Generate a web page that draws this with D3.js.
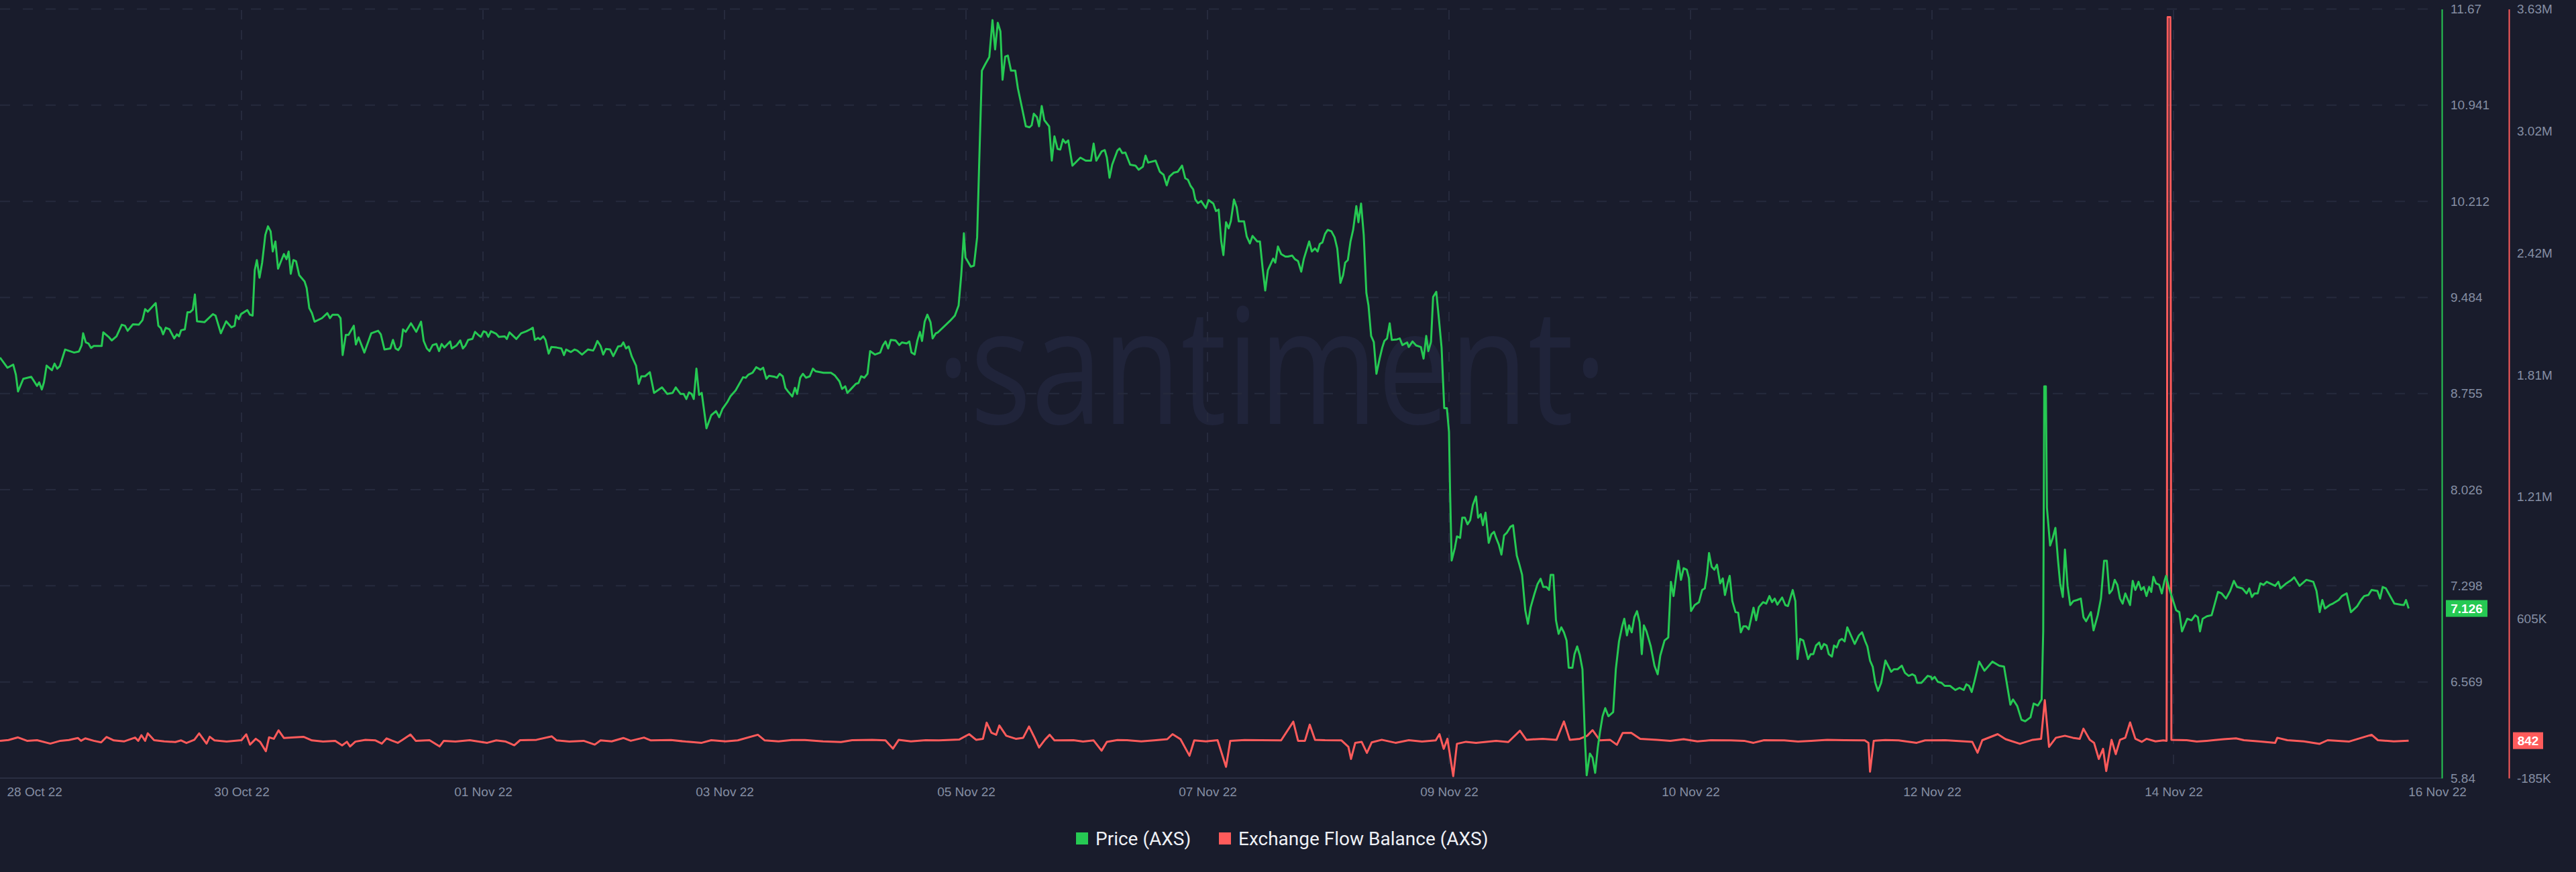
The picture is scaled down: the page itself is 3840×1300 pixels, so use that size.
<!DOCTYPE html>
<html>
<head>
<meta charset="utf-8">
<script src="https://cdn.jsdelivr.net/npm/d3@7"></script>
<style>
html, body { margin: 0; padding: 0; background: #191c2c; }
svg { display: block; }
</style>
</head>
<body>
<div id="chart"></div>
<script>
// x axis tick labels (evenly spaced over the 28 Oct - 16 Nov window)
var dateLabels = ["28 Oct 22", "30 Oct 22", "01 Nov 22", "03 Nov 22", "05 Nov 22", "07 Nov 22",
    "09 Nov 22", "10 Nov 22", "12 Nov 22", "14 Nov 22", "16 Nov 22"];
var totalHours = 456;

// left (green) axis ticks
var priceTicks = [5.84, 6.569, 7.298, 8.026, 8.755, 9.484, 10.212, 10.941, 11.67];

// right (red) axis ticks, in thousands
var flowTicks = [-185, 605, 1210, 1815, 2420, 3025, 3630];
var flowTickLabels = ["-185K", "605K", "1.21M", "1.81M", "2.42M", "3.02M", "3.63M"];

var legendNames = ["Price (AXS)", "Exchange Flow Balance (AXS)"];
var colors = ["#26c953", "#ff5b5b"];

// price: [hours since 28 Oct 00:00, price]
var priceSeries = [[0,9.028],[1.4,8.951],[2.5,8.974],[3.0,8.898],[3.4,8.771],[4.4,8.867],[5.9,8.882],[7.0,8.813],[7.4,8.840],[7.9,8.786],[8.3,8.840],[8.8,8.967],[9.8,8.932],[10.3,8.982],[10.8,8.944],[11.3,8.963],[12.3,9.089],[14.0,9.066],[14.9,9.074],[15.4,9.120],[15.7,9.212],[16.2,9.143],[16.7,9.135],[17.2,9.101],[17.7,9.116],[19.2,9.116],[19.5,9.219],[20.6,9.181],[21.1,9.158],[22.0,9.189],[23.0,9.277],[23.6,9.269],[24.1,9.231],[25.1,9.280],[26.2,9.277],[26.9,9.311],[27.4,9.395],[27.9,9.376],[29.4,9.441],[29.9,9.269],[30.4,9.250],[30.8,9.204],[31.3,9.254],[32.0,9.242],[32.9,9.173],[33.4,9.204],[33.8,9.189],[34.2,9.235],[34.9,9.242],[35.4,9.372],[35.9,9.372],[36.4,9.391],[36.8,9.506],[37.2,9.303],[38.6,9.296],[40.2,9.357],[40.7,9.346],[41.7,9.212],[42.7,9.303],[43.7,9.257],[44.3,9.269],[44.6,9.346],[45.1,9.319],[45.5,9.357],[46.7,9.388],[47.2,9.353],[47.7,9.346],[48.1,9.690],[48.5,9.767],[49.0,9.633],[49.5,9.748],[50.1,9.958],[50.6,10.023],[51.1,9.985],[51.5,9.832],[52.0,9.908],[52.5,9.702],[53.6,9.813],[54.1,9.774],[54.5,9.832],[54.9,9.663],[55.4,9.767],[55.9,9.759],[56.5,9.652],[57.5,9.606],[57.9,9.556],[58.4,9.403],[58.9,9.365],[59.4,9.300],[60.8,9.327],[61.8,9.365],[62.3,9.327],[62.8,9.353],[63.8,9.353],[64.3,9.327],[64.7,9.047],[65.3,9.200],[65.8,9.200],[66.8,9.269],[67.2,9.127],[67.7,9.181],[68.8,9.066],[70.1,9.212],[71.4,9.231],[71.9,9.204],[72.6,9.089],[73.7,9.097],[74.2,9.162],[74.7,9.097],[75.2,9.085],[75.7,9.116],[76.1,9.242],[76.6,9.223],[77.6,9.288],[78.6,9.223],[79.5,9.300],[80.0,9.154],[80.6,9.097],[81.1,9.077],
    [81.7,9.123],[82.4,9.131],[82.9,9.077],[83.4,9.131],[83.9,9.104],[85.0,9.150],[85.3,9.097],[86.2,9.120],[86.9,9.158],[87.4,9.097],[87.9,9.120],[88.4,9.162],[89.2,9.169],[89.7,9.223],[90.4,9.196],[90.8,9.185],[91.3,9.227],[91.8,9.219],[92.2,9.185],[92.7,9.227],[93.7,9.208],[94.2,9.185],[95.3,9.189],[95.7,9.169],[96.2,9.219],[97.5,9.169],[98.4,9.212],[99.4,9.227],[100.1,9.242],[100.6,9.254],[101.0,9.162],[101.6,9.177],[102.0,9.166],[102.6,9.189],[103.0,9.162],[103.6,9.058],[104.1,9.108],[105.1,9.104],[106.0,9.097],[106.5,9.047],[106.9,9.089],[107.8,9.070],[108.5,9.089],[109.0,9.081],[109.9,9.051],[111.0,9.089],[112.0,9.081],[112.3,9.104],[112.8,9.154],[113.4,9.116],[113.9,9.051],[114.4,9.093],[115.2,9.089],[115.8,9.039],[116.7,9.112],[117.3,9.116],[117.7,9.143],[118.2,9.097],[118.7,9.112],[119.3,9.035],[120.1,8.967],[120.6,8.829],[121.1,8.886],[121.8,8.886],[122.7,8.917],[123.5,8.760],[125.0,8.802],[126.0,8.752],[127.0,8.760],[127.6,8.802],[128.5,8.752],[129.1,8.752],[129.6,8.714],[130.1,8.764],[130.6,8.752],[131.0,8.714],[131.5,8.944],[132.0,8.745],[132.5,8.760],[133.4,8.492],[134.3,8.591],[135.2,8.622],[135.8,8.576],[136.4,8.637],[137.4,8.695],[137.9,8.733],[138.9,8.779],[140.3,8.879],[140.8,8.875],[141.3,8.898],[142.1,8.913],[142.8,8.955],[143.6,8.936],[144.1,8.951],[144.7,8.867],[145.2,8.890],[146.3,8.882],[146.7,8.875],[147.2,8.905],[147.8,8.886],[148.3,8.798],[148.8,8.771],[149.6,8.733],[150.1,8.798],[150.5,8.752],[151.1,8.875],[151.6,8.905],[152.2,8.875],[152.9,8.886],[153.5,8.944],[154.0,8.924],[155.5,8.913],[156.9,8.913],[157.6,8.894],[158.5,8.848],[159.0,8.790],[159.6,8.810],[160.0,8.760],[160.7,8.790],[161.6,8.829],[162.1,8.835],
    [162.6,8.886],[163.2,8.875],[163.8,8.905],[164.3,9.077],[165.2,9.051],[166.2,9.066],[166.7,9.120],[167.2,9.150],[167.7,9.097],[168.2,9.162],[169.1,9.158],[169.8,9.123],[170.3,9.143],[171.2,9.135],[171.7,9.150],[172.1,9.066],[172.7,9.051],[173.2,9.154],[173.7,9.223],[174.1,9.154],[174.6,9.300],[175.1,9.353],[175.7,9.296],[176.1,9.173],[176.7,9.212],[177.1,9.219],[179.4,9.307],[180.3,9.346],[181.0,9.422],[181.5,9.652],[182.0,9.970],[182.3,9.786],[182.7,9.759],[183.3,9.717],[183.9,9.725],[184.5,9.939],[184.9,10.513],[185.4,11.203],[186.0,11.249],[186.8,11.306],[187.4,11.586],[187.9,11.364],[188.4,11.566],[188.9,11.501],[189.3,11.134],[189.8,11.310],[190.3,11.317],[190.9,11.203],[191.7,11.203],[192.2,11.069],[192.9,10.935],[193.7,10.781],[194.4,10.774],[194.8,10.789],[195.2,10.877],[195.8,10.850],[196.2,10.781],[196.7,10.935],[197.2,10.827],[198.1,10.781],[198.6,10.521],[199.1,10.705],[199.7,10.609],[200.2,10.605],[200.7,10.682],[201.2,10.655],[201.7,10.674],[202.5,10.483],[204.0,10.544],[205.0,10.521],[206.0,10.521],[206.5,10.651],[207.0,10.521],[208.0,10.590],[208.6,10.601],[209.0,10.544],[209.5,10.391],[210.0,10.490],[211.0,10.598],[211.4,10.613],[211.9,10.578],[212.5,10.582],[213.4,10.490],[214.4,10.483],[215.0,10.452],[215.8,10.475],[216.3,10.559],[216.8,10.506],[218.2,10.521],[219.0,10.437],[219.7,10.414],[220.3,10.334],[220.8,10.399],[221.6,10.429],[222.4,10.437],[223.2,10.483],[223.8,10.387],[224.3,10.376],[224.8,10.330],[225.3,10.303],[225.7,10.226],[226.2,10.199],[226.8,10.215],[227.7,10.161],[228.2,10.222],[229.1,10.195],[229.6,10.138],[230.1,10.150],[230.6,9.908],[231.0,9.805],[231.5,10.054],[232.0,10.008],[232.4,10.061],[233.0,10.226],[233.5,10.169],[233.9,10.061],[234.9,10.061],[235.4,9.947],[236.0,9.893],[236.5,9.950],[237.4,9.908],[237.9,9.908],[238.4,9.709],[238.9,9.537],[239.4,9.690],[240.4,9.778],[240.8,9.748],[241.3,9.870],[241.9,9.813],[242.7,9.794],
    [243.2,9.794],[244.0,9.801],[244.5,9.774],[245.1,9.759],[245.7,9.679],[246.2,9.778],[247.2,9.908],[247.7,9.832],[248.3,9.855],[248.8,9.832],[249.2,9.889],[249.7,9.901],[250.2,9.966],[250.7,9.996],[251.4,9.985],[252.0,9.939],[252.5,9.855],[253.1,9.594],[253.6,9.652],[254.0,9.748],[254.5,9.767],[255.0,9.908],[255.5,9.996],[256.1,10.176],[256.5,10.054],[257.0,10.195],[257.5,9.958],[258.0,9.518],[258.4,9.422],[258.9,9.192],[259.4,9.146],[259.9,8.905],[260.5,9.020],[261.0,9.104],[261.4,9.154],[261.9,9.173],[262.4,9.288],[262.8,9.162],[263.8,9.166],[264.3,9.173],[264.8,9.123],[265.7,9.143],[266.0,9.108],[266.7,9.150],[267.4,9.120],[268.3,9.108],[268.8,9.020],[269.3,9.192],[269.7,9.077],[270.2,9.146],[270.6,9.487],[271.2,9.526],[271.7,9.319],[272.2,9.104],[272.7,8.645],[273.2,8.645],[273.6,8.465],[273.8,8.024],[274.1,7.489],[274.7,7.584],[275.1,7.672],[275.7,7.661],[276.1,7.814],[276.6,7.814],[277.1,7.764],[277.6,7.795],[278.1,7.910],[278.7,7.975],[279.1,7.814],[279.6,7.841],[280.0,7.757],[280.5,7.852],[281.1,7.623],[281.6,7.688],[282.1,7.707],[282.5,7.661],[283.0,7.611],[283.5,7.534],[284.0,7.680],[284.5,7.699],[285.2,7.745],[285.7,7.757],[286.4,7.527],[286.9,7.458],[287.4,7.381],[288.0,7.113],[288.5,7.010],[289.0,7.132],[289.7,7.232],[290.3,7.309],[290.9,7.351],[291.4,7.289],[292.0,7.289],[292.5,7.266],[292.8,7.381],[293.3,7.381],[293.8,7.036],[294.3,6.933],[294.8,6.983],[295.3,6.945],[295.8,6.883],[296.2,6.677],[296.9,6.677],[297.3,6.780],[297.8,6.838],[298.3,6.772],[298.8,6.665],[299.3,6.110],[299.6,5.861],[300.2,6.026],[300.7,5.995],[301.2,5.880],[301.7,6.072],[302.1,6.187],[302.6,6.309],[303.1,6.370],[303.7,6.309],[304.6,6.340],[305.1,6.665],[305.7,6.876],[306.3,6.991],[306.7,7.048],[307.2,6.922],[307.6,6.998],[308.1,6.945],[308.6,7.060],[309.1,7.106],[309.6,7.021],[310.0,6.780],[310.4,6.998],[310.9,6.952],[311.7,6.838],[312.4,6.692],[313.0,6.627],[313.5,6.769],[314.3,6.883],[315.0,6.906],[315.5,7.328],[316.0,7.220],[316.5,7.373],[316.9,7.488],[317.4,7.343],[317.9,7.431],[318.5,7.420],[318.9,7.354],[319.3,7.106],[320.0,7.152],[320.8,7.174],[321.4,7.266],[321.9,7.278],[322.3,7.381],[322.7,7.546],[323.2,7.442],[323.7,7.420],[324.2,7.458],
    [324.8,7.316],[325.3,7.354],[325.7,7.228],[326.2,7.316],[326.6,7.373],[327.1,7.182],[327.7,7.098],[328.2,7.094],[328.7,6.945],[329.2,6.991],[329.7,6.991],[330.2,6.968],[331.1,7.132],[331.6,7.036],[332.1,7.136],[332.9,7.174],[333.5,7.163],[334.1,7.220],[334.6,7.174],[335.1,7.201],[335.6,7.155],[336.5,7.209],[337.1,7.152],[337.6,7.144],[338.5,7.266],[339.0,7.182],[339.4,6.742],[339.9,6.895],[340.5,6.883],[341.0,6.807],[341.4,6.742],[341.9,6.780],[342.4,6.780],[342.9,6.845],[343.5,6.868],[343.9,6.818],[344.4,6.857],[344.9,6.845],[345.3,6.780],[345.9,6.761],[346.3,6.845],[346.8,6.830],[347.3,6.883],[347.8,6.895],[348.3,6.876],[348.8,6.983],[350.2,6.857],[351.0,6.922],[351.6,6.945],[352.2,6.876],[352.6,6.838],[353.1,6.731],[353.6,6.685],[354.1,6.562],[354.6,6.501],[355.2,6.562],[356.0,6.731],[357.1,6.646],[357.6,6.665],[358.3,6.665],[359.1,6.692],[359.7,6.638],[360.4,6.615],[361.1,6.627],[361.6,6.615],[362.0,6.562],[362.8,6.562],[364.0,6.615],[364.6,6.608],[364.8,6.588],[365.3,6.608],[365.9,6.570],[366.6,6.562],[367.2,6.539],[368.2,6.539],[369.2,6.508],[370.0,6.524],[370.8,6.508],[371.3,6.551],[371.8,6.539],[372.3,6.493],[372.8,6.570],[373.7,6.723],[374.7,6.654],[375.4,6.685],[376.2,6.723],[377.5,6.692],[378.4,6.685],[379.6,6.397],[380.1,6.436],[380.9,6.386],[381.7,6.282],[382.4,6.271],[383.4,6.301],[384.0,6.405],[384.8,6.390],[385.5,6.436],[385.8,6.952],[386.0,8.810],[386.3,8.810],[386.5,7.890],[387.1,7.603],[387.6,7.661],[388.1,7.737],[388.6,7.488],[389.0,7.316],[389.5,7.213],[389.9,7.573],[390.4,7.297],[390.9,7.152],[391.5,7.182],[392.2,7.190],[392.9,7.201],[393.4,7.060],[393.9,7.029],[394.8,7.098],[395.3,6.960],[396.1,7.075],[396.7,7.201],[397.3,7.488],[397.8,7.488],[398.3,7.240],[398.8,7.266],[399.3,7.343],[399.8,7.305],[400.3,7.201],[400.8,7.163],[401.3,7.240],[402.2,7.152],[402.7,7.335],[403.2,7.266],[403.8,7.328],[404.3,7.266],[404.8,7.289],[405.3,7.220],
    [405.8,7.289],[406.2,7.251],[406.6,7.366],[407.1,7.316],[407.7,7.305],[408.2,7.240],[408.7,7.335],[409.0,7.373],[409.5,7.289],[410.2,7.201],[410.9,7.113],[411.5,7.098],[412.0,6.952],[413.0,7.048],[413.8,7.036],[414.5,7.075],[415.0,7.060],[415.4,6.952],[415.9,7.048],[416.7,7.067],[417.6,7.075],[418.2,7.163],[418.8,7.251],[419.5,7.240],[420.3,7.201],[421.1,7.259],[421.8,7.335],[422.4,7.289],[423.4,7.278],[424.2,7.240],[424.7,7.278],[425.2,7.213],[425.7,7.240],[426.3,7.240],[426.8,7.316],[427.4,7.305],[428.0,7.328],[429.6,7.297],[430.2,7.328],[430.6,7.278],[431.7,7.316],[432.7,7.343],[433.2,7.362],[434.2,7.297],[435.5,7.343],[436.8,7.328],[437.4,7.259],[438.0,7.098],[438.5,7.190],[439.0,7.125],[439.9,7.152],[440.5,7.163],[441.6,7.190],[442.2,7.220],[443.1,7.240],[443.9,7.098],[445.1,7.144],[445.8,7.190],[446.4,7.220],[447.2,7.228],[447.8,7.266],[448.9,7.259],[449.4,7.201],[449.9,7.289],[450.5,7.278],[452.1,7.163],[453.3,7.155],[453.9,7.152],[454.3,7.190],[454.8,7.126]];

// exchange flow balance: [hours since 28 Oct 00:00, thousands of AXS]
var flowSeries = [[0,0],[1.6,4],[3.4,17],[5.1,0],[7.0,3],[9.5,-14],[11.4,0],[13.0,4],[14.7,14],[15.3,0],[16.1,12],[17.7,0],[19.1,-8],[20.1,19],[21.5,2],[23.4,-3],[25.5,16],[26.1,0],[26.7,28],[27.4,0],[27.9,37],[29.1,3],[31.0,-3],[33.1,-6],[34.2,2],[35.2,-11],[36.7,5],[37.6,37],[39.0,-14],[39.6,20],[40.5,2],[42.8,-4],[45.6,3],[46.5,32],[47.2,-19],[48.3,10],[49.1,-5],[50.2,-52],[50.8,17],[51.7,10],[52.6,52],[53.6,14],[55.1,16],[57.3,20],[58.9,2],[61.0,-4],[63.3,0],[64.6,-23],[65.5,-5],[66.1,-28],[67.1,-4],[69.0,5],[70.9,2],[72.1,-14],[73.0,12],[74.1,0],[75.1,-10],[76.0,5],[77.5,31],[78.5,0],[81.1,3],[83.0,-28],[83.8,0],[86.0,-4],[88.7,3],[92.0,-10],[93.7,2],[95.5,-4],[97.1,-22],[98.2,3],[101.3,5],[104.2,22],[105.1,2],[107.5,-4],[110.2,0],[112.3,-19],[113.4,2],[115.5,-3],[117.7,14],[119.1,0],[121.6,16],[122.9,2],[126.7,4],[129.5,-4],[132.5,-10],[134.3,3],[137.0,-3],[139.3,2],[143.1,30],[144.4,2],[147.0,-3],[149.5,4],[152.0,4],[155.4,-3],[158.8,-6],[160.9,3],[164.7,5],[167.2,2],[168.6,-39],[169.7,5],[172.0,-3],[174.8,3],[177.3,2],[181.1,6],[183.0,33],[184.3,5],[185.6,10],[186.3,90],[187.2,40],[188.1,30],[188.7,76],[190.0,25],[191.8,10],[193.2,15],[194.3,71],[195.3,18],[196.2,-33],[197.3,5],[198.2,30],[199.1,2],[202.7,3],[204.5,-4],[206.5,2],[208.0,-49],[209.0,-5],[211.0,4],[212.8,3],[215.5,-3],[217.9,2],[220.4,8],[221.4,33],[222.9,8],[224.6,-74],[225.5,2],[227.7,-3],[229.9,3],[231.5,-129],[232.3,0],[235.0,4],[238.1,3],[241.9,2],[244.2,95],[245.1,0],[246.4,0],[247.3,80],[248.3,5],[250.2,3],[253.3,2],[254.6,-30],[255.1,-90],[255.9,-10],[257.1,-5],[258.1,-60],[259.0,-8],[260.9,5],[263.5,-10],[266.0,3],[268.5,-4],[271.1,2],[271.8,33],[272.6,-40],[273.3,10],[274.4,-175],[275.1,-15],[276.8,-5],[278.7,-10],[282.5,0],[284.8,-6],[287.0,50],[288.2,5],[291.3,10],[293.9,5],[295.3,96],[296.4,5],[298.3,10],[299.7,25],[300.7,53],[302.1,2],[304.0,5],[305.3,-20],[306.4,39],[308.0,40],[309.7,10],[312.9,5],[315.4,0],[317.9,8],[320.5,-3],[323.0,3],[326.8,2],[329.3,0],[331.1,-10],[333.1,3],[336.9,2],[339.5,-4],[342.0,0],[345.0,5],[348.3,3],[352.1,2],[352.8,-10],[353.1,-153],[353.8,0],[356.0,4],[358.5,2],[361.9,-10],[363.5,2],[367.3,3],[372.4,-5],[373.4,-59],[374.3,3],[377.2,33],[378.7,8],[381.4,-15],[383.8,5],[385.4,10],[386.1,202],[386.9,-30],[388.2,15],[389.9,25],[391.4,15],[392.7,10],[393.4,60],[394.6,5],[395.4,-10],[396.3,-90],[397.1,-40],[397.7,-150],[398.7,5],[399.5,-66],[400.3,5],[401.3,15],[402.2,91],[403.2,10],[404.4,-5],[405.3,10],[407.0,-3],[408.5,2],[409.1,0],[409.3,3590],[409.8,3590],[410.0,5],[412.9,3],[414.8,-4],[416.7,0],[419.9,8],[422.2,12],[423.7,3],[426.5,-3],[429.6,-10],[430.0,15],[431.9,3],[435.0,-3],[438.0,-15],[439.5,3],[443.5,-4],[447.8,30],[449.0,3],[452.0,-3],[454.8,0.842]];

var width = 3840, height = 1300;
var plotTop = 13.5, plotBottom = 1160, plotRight = 3640, flowAxisX = 3740;
var axisFont = "'Liberation Sans', Arial, sans-serif";
var labelColor = "#858ea3";
var gridColor = "#262a3d";

var svg = d3.select("#chart").append("svg")
    .attr("width", width)
    .attr("height", height);

svg.append("rect")
    .attr("width", width)
    .attr("height", height)
    .attr("fill", "#191c2c");

var x = d3.scaleLinear().domain([0, totalHours]).range([0, 3600]);
var yPrice = d3.scaleLinear().domain([priceTicks[0], priceTicks[priceTicks.length - 1]]).range([plotBottom, plotTop]);
var yFlow = d3.scaleLinear().domain([flowTicks[0], flowTicks[flowTicks.length - 1]]).range([plotBottom, plotTop]);

var tickHours = dateLabels.map(function(d, i) {
    return i * totalHours / (dateLabels.length - 1);
});

// watermark
svg.append("text")
    .attr("x", 1896)
    .attr("y", 632)
    .attr("text-anchor", "middle")
    .attr("font-family", "'Open Sans', sans-serif")
    .attr("font-size", 240)
    .attr("textLength", 1000)
    .attr("lengthAdjust", "spacingAndGlyphs")
    .attr("fill", "#20243a")
    .text("·santiment·");

// gridlines
svg.append("g")
    .selectAll("line")
    .data(priceTicks.slice(1))
    .enter().append("line")
    .attr("x1", 0)
    .attr("x2", 3626)
    .attr("y1", function(d) { return yPrice(d); })
    .attr("y2", function(d) { return yPrice(d); })
    .attr("stroke", gridColor)
    .attr("stroke-width", 2)
    .attr("stroke-dasharray", "15,19");

svg.append("g")
    .selectAll("line")
    .data(tickHours.slice(1, tickHours.length - 1))
    .enter().append("line")
    .attr("x1", function(d) { return x(d); })
    .attr("x2", function(d) { return x(d); })
    .attr("y1", 15)
    .attr("y2", 1146)
    .attr("stroke", gridColor)
    .attr("stroke-width", 2)
    .attr("stroke-dasharray", "14,16");

// baseline
svg.append("line")
    .attr("x1", 0)
    .attr("x2", plotRight)
    .attr("y1", plotBottom)
    .attr("y2", plotBottom)
    .attr("stroke", "#2a2e42")
    .attr("stroke-width", 2);

// x axis
var lastTick = dateLabels.length - 1;
var xAxis = svg.append("g")
    .attr("transform", "translate(0," + plotBottom + ")")
    .call(d3.axisBottom(x)
        .tickValues(tickHours)
        .tickFormat(function(d, i) { return dateLabels[i]; })
        .tickSize(0)
        .tickPadding(14));
xAxis.select(".domain").remove();
xAxis.selectAll("text")
    .attr("font-family", axisFont)
    .attr("font-size", 19)
    .attr("fill", labelColor)
    .attr("text-anchor", function(d, i) { return i === 0 ? "start" : "middle"; })
    .attr("x", function(d, i) {
        if (i === 0) return 10;
        if (i === lastTick) return 33;   // last label is pushed toward the axis in the original
        return 0;
    });

// lines
var flowLine = d3.line()
    .x(function(d) { return x(d[0]); })
    .y(function(d) { return yFlow(d[1]); });

var priceLine = d3.line()
    .x(function(d) { return x(d[0]); })
    .y(function(d) { return yPrice(d[1]); });

svg.append("path")
    .datum(flowSeries)
    .attr("d", flowLine)
    .attr("fill", "none")
    .attr("stroke", colors[1])
    .attr("stroke-width", 3)
    .attr("stroke-linejoin", "round");

svg.append("path")
    .datum(priceSeries)
    .attr("d", priceLine)
    .attr("fill", "none")
    .attr("stroke", colors[0])
    .attr("stroke-width", 3)
    .attr("stroke-linejoin", "round");

// price axis (green)
var priceAxis = svg.append("g")
    .attr("transform", "translate(" + plotRight + ",0)")
    .call(d3.axisRight(yPrice)
        .tickValues(priceTicks)
        .tickFormat(function(d) { return String(d); })
        .tickSize(0)
        .tickSizeOuter(0)
        .tickPadding(13));
priceAxis.select(".domain")
    .attr("stroke", colors[0])
    .attr("stroke-width", 2);
priceAxis.selectAll("text")
    .attr("font-family", axisFont)
    .attr("font-size", 19)
    .attr("fill", labelColor);

// flow axis (red)
var flowAxis = svg.append("g")
    .attr("transform", "translate(" + flowAxisX + ",0)")
    .call(d3.axisRight(yFlow)
        .tickValues(flowTicks)
        .tickFormat(function(d, i) { return flowTickLabels[i]; })
        .tickSize(0)
        .tickSizeOuter(0)
        .tickPadding(12));
flowAxis.select(".domain")
    .attr("stroke", colors[1])
    .attr("stroke-width", 2);
flowAxis.selectAll("text")
    .attr("font-family", axisFont)
    .attr("font-size", 19)
    .attr("fill", labelColor);

// last value badges
var lastPrice = priceSeries[priceSeries.length - 1][1];
var lastFlow = flowSeries[flowSeries.length - 1][1];

var badges = [
    {x: plotRight + 6, w: 62, y: yPrice(lastPrice), color: colors[0], label: String(lastPrice)},
    {x: flowAxisX + 6, w: 45, y: yFlow(lastFlow), color: colors[1], label: String(Math.round(lastFlow * 1000))}
];

var badge = svg.append("g")
    .selectAll("g")
    .data(badges)
    .enter().append("g");

badge.append("rect")
    .attr("x", function(d) { return d.x; })
    .attr("y", function(d) { return d.y - 12.5; })
    .attr("width", function(d) { return d.w; })
    .attr("height", 25)
    .attr("fill", function(d) { return d.color; });

badge.append("text")
    .attr("x", function(d) { return d.x + d.w / 2; })
    .attr("y", function(d) { return d.y; })
    .attr("dy", "0.36em")
    .attr("text-anchor", "middle")
    .attr("font-family", axisFont)
    .attr("font-weight", "bold")
    .attr("font-size", 19)
    .attr("fill", "#ffffff")
    .text(function(d) { return d.label; });

// legend
var legend = svg.append("g").attr("transform", "translate(0,1250)");
var legendX = [1604, 1817];

legendNames.forEach(function(name, i) {
    legend.append("rect")
        .attr("x", legendX[i])
        .attr("y", -9)
        .attr("width", 18)
        .attr("height", 18)
        .attr("fill", colors[i]);
    legend.append("text")
        .attr("x", legendX[i] + 29)
        .attr("y", 0)
        .attr("dy", "0.35em")
        .attr("font-family", "Roboto, sans-serif")
        .attr("font-size", 28)
        .attr("fill", "#eef0f5")
        .text(name);
});
</script>
</body>
</html>
